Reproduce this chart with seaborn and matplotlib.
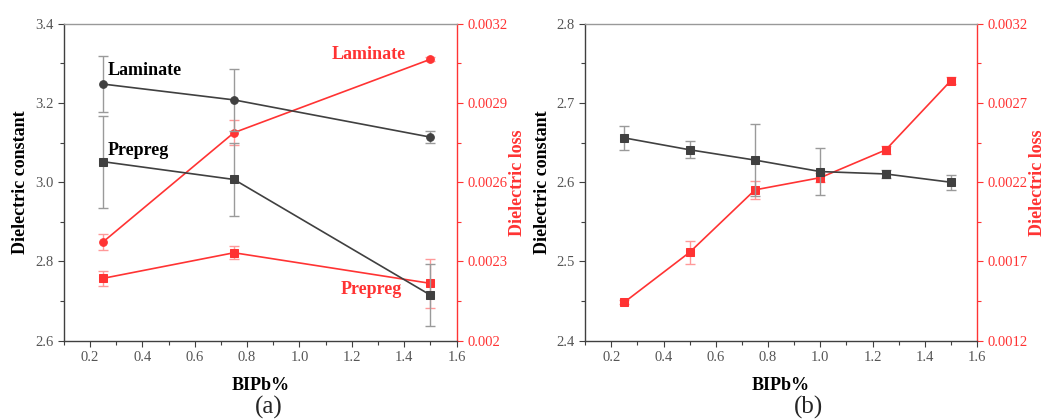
import matplotlib
matplotlib.use("Agg")
import matplotlib.pyplot as plt
import seaborn as sns
import numpy as np
import pandas as pd
from matplotlib.ticker import MultipleLocator, FixedLocator

sns.set_theme(style="white")
plt.rcParams['font.family'] = ['Liberation Serif', 'DejaVu Serif']

# ---- Panel (a) data ----
a_x = [0.25, 0.75, 1.5]
a_lam_dc = [3.248, 3.208, 3.114]
a_lam_dc_err = [0.070, 0.078, 0.016]
a_pre_dc = [3.052, 3.007, 2.715]
a_pre_dc_err = [0.116, 0.091, 0.078]
a_lam_dl = [0.002374, 0.002788, 0.003066]
a_lam_dl_err = [0.000030, 0.000047, 0.000008]
a_pre_dl = [0.002236, 0.002333, 0.002217]
a_pre_dl_err = [0.000029, 0.000025, 0.000092]

# ---- Panel (b) data ----
b_x = [0.25, 0.5, 0.75, 1.0, 1.25, 1.5]
b_dc = [2.656, 2.641, 2.628, 2.6135, 2.6105, 2.600]
b_dc_err = [0.015, 0.0105, 0.045, 0.030, 0.005, 0.0095]
b_dl = [0.001443, 0.001758, 0.002152, 0.002229, 0.002404, 0.002842]
b_dl_err = [0.000012, 0.000073, 0.000057, 0.000030, 0.000025, 0.000020]

GRAY = "#404040"
EGRAY = "#9a9a9a"
RED = "#ff3333"
ERED = "#ff9999"
TICKGRAY = "#555555"

fig = plt.figure(figsize=(10.45, 4.19), dpi=100)
axA = fig.add_axes([0.061, 0.187, 0.376, 0.756])
axB = fig.add_axes([0.560, 0.187, 0.375, 0.756])


def series(ax, x, y, err, color, ecolor, marker):
    df = pd.DataFrame({"x": x, "y": y})
    ax.errorbar(x, y, yerr=err, fmt="none", ecolor=ecolor, elinewidth=1.0,
                capsize=3.5, capthick=1.0, zorder=2)
    sns.lineplot(data=df, x="x", y="y", ax=ax, color=color, marker=marker,
                 markersize=5.5, markeredgecolor=color, linewidth=1.2,
                 legend=False, zorder=3, errorbar=None)


def style_axes(ax, ax2, ylim, ymaj, ymin, y2lim, y2ticks, y2minor, y2labels):
    ax.set_xlim(0.1, 1.6)
    ax.xaxis.set_major_locator(FixedLocator([0.2, 0.4, 0.6, 0.8, 1.0, 1.2, 1.4, 1.6]))
    ax.xaxis.set_minor_locator(MultipleLocator(0.1))
    ax.set_ylim(*ylim)
    ax.yaxis.set_major_locator(MultipleLocator(ymaj))
    ax.yaxis.set_minor_locator(MultipleLocator(ymin))
    ax.tick_params(axis="both", which="both", direction="out", colors=GRAY,
                   labelcolor=TICKGRAY, labelsize=10.5, length=4, width=0.8,
                   left=True, bottom=True, top=False, right=False)
    ax.tick_params(axis="both", which="minor", length=3)
    ax.set_xlabel("BIPb%", fontsize=13, fontweight="bold", color="black", labelpad=9)
    ax.set_ylabel("Dielectric constant", fontsize=13, fontweight="bold", color="black", labelpad=4)
    for s in ["left", "bottom"]:
        ax.spines[s].set_color(GRAY)
        ax.spines[s].set_linewidth(1.0)
    ax.spines["top"].set_color("#999999")
    ax.spines["top"].set_linewidth(1.0)
    ax.spines["right"].set_visible(False)

    ax2.set_ylim(*y2lim)
    ax2.yaxis.set_major_locator(FixedLocator(y2ticks))
    ax2.yaxis.set_minor_locator(FixedLocator(y2minor))
    ax2.set_yticklabels(y2labels)
    ax2.tick_params(axis="y", which="both", direction="out", colors=RED,
                    labelcolor=RED, labelsize=10.5, length=4, width=0.8, right=True)
    ax2.tick_params(axis="y", which="minor", length=3)
    ax2.set_ylabel("Dielectric loss", fontsize=13, fontweight="bold", color=RED, labelpad=1)
    for s in ["left", "bottom", "top"]:
        ax2.spines[s].set_visible(False)
    ax2.spines["right"].set_color(RED)
    ax2.spines["right"].set_linewidth(1.0)
    ax2.set_xlabel("")


# ---- Panel (a) ----
axA2 = axA.twinx()
series(axA, a_x, a_lam_dc, a_lam_dc_err, GRAY, EGRAY, "o")
series(axA, a_x, a_pre_dc, a_pre_dc_err, GRAY, EGRAY, "s")
series(axA2, a_x, a_lam_dl, a_lam_dl_err, RED, ERED, "o")
series(axA2, a_x, a_pre_dl, a_pre_dl_err, RED, ERED, "s")
style_axes(axA, axA2, (2.6, 3.4), 0.2, 0.1, (0.002, 0.0032),
           [0.002, 0.0023, 0.0026, 0.0029, 0.0032],
           [0.00215, 0.00245, 0.00275, 0.00305],
           ["0.002", "0.0023", "0.0026", "0.0029", "0.0032"])
axA.set_zorder(axA2.get_zorder() + 1)
axA.patch.set_visible(False)
axA.text(0.269, 3.282, "Laminate", fontsize=13, fontweight="bold", color="black", va="center")
axA.text(0.269, 3.08, "Prepreg", fontsize=13, fontweight="bold", color="black", va="center")
axA2.text(1.405, 0.003083, "Laminate", fontsize=13, fontweight="bold", color=RED, va="center", ha="right")
axA2.text(1.39, 0.002192, "Prepreg", fontsize=13, fontweight="bold", color=RED, va="center", ha="right")
fig.text(0.257, 0.0, "(a)", fontsize=18, ha="center", va="bottom")

# ---- Panel (b) ----
axB2 = axB.twinx()
series(axB, b_x, b_dc, b_dc_err, GRAY, EGRAY, "s")
series(axB2, b_x, b_dl, b_dl_err, RED, ERED, "s")
style_axes(axB, axB2, (2.4, 2.8), 0.1, 0.05, (0.0012, 0.0032),
           [0.0012, 0.0017, 0.0022, 0.0027, 0.0032],
           [0.00145, 0.00195, 0.00245, 0.00295],
           ["0.0012", "0.0017", "0.0022", "0.0027", "0.0032"])
axB.set_zorder(axB2.get_zorder() + 1)
axB.patch.set_visible(False)
fig.text(0.7737, 0.0, "(b)", fontsize=18, ha="center", va="bottom")

fig.savefig("out.png", dpi=100, facecolor="white")
